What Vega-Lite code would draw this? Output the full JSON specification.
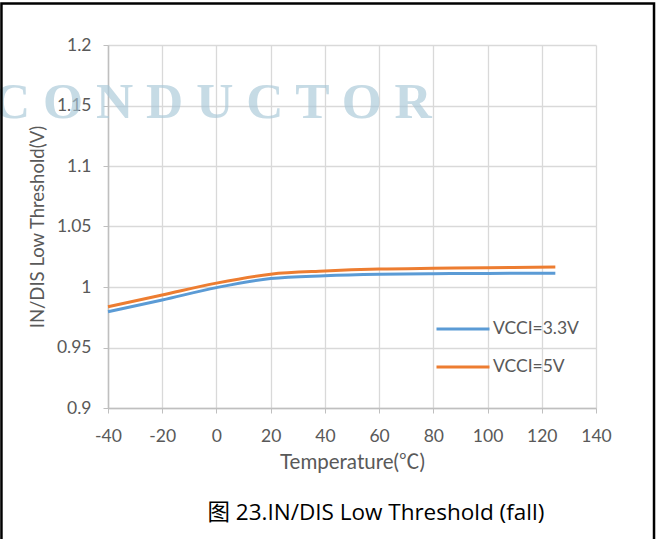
{
  "$schema": "https://vega.github.io/schema/vega-lite/v6.json",
  "width": 488,
  "height": 363,
  "autosize": {"type": "none"},
  "padding": {"left": 108, "top": 45, "right": 62, "bottom": 131},
  "background": "white",
  "config": {
    "view": {"stroke": null},
    "font": "Lato",
    "axis": {
      "labelFontSize": 17.5,
      "labelColor": "#595959",
      "labelFont": "Lato",
      "labelFlush": false,
      "labelOverlap": false,
      "titleFont": "Lato, Noto Sans CJK SC",
      "titleFontSize": 18.5,
      "titleFontWeight": "normal",
      "titleColor": "#595959",
      "domainColor": "#bfbfbf",
      "tickColor": "#bfbfbf",
      "gridColor": "#d9d9d9",
      "tickSize": 5,
      "domainWidth": 1.5,
      "gridWidth": 1.3
    }
  },
  "layer": [
    {
      "data": {
        "values": [
          {"t": -40, "v": 0.9796, "s": "VCCI=3.3V"},
          {"t": -20, "v": 0.9893, "s": "VCCI=3.3V"},
          {"t": 0, "v": 0.9995, "s": "VCCI=3.3V"},
          {"t": 20, "v": 1.007, "s": "VCCI=3.3V"},
          {"t": 40, "v": 1.0093, "s": "VCCI=3.3V"},
          {"t": 60, "v": 1.0105, "s": "VCCI=3.3V"},
          {"t": 80, "v": 1.011, "s": "VCCI=3.3V"},
          {"t": 100, "v": 1.0112, "s": "VCCI=3.3V"},
          {"t": 125, "v": 1.0114, "s": "VCCI=3.3V"},
          {"t": -40, "v": 0.9837, "s": "VCCI=5V"},
          {"t": -20, "v": 0.9934, "s": "VCCI=5V"},
          {"t": 0, "v": 1.0032, "s": "VCCI=5V"},
          {"t": 20, "v": 1.0106, "s": "VCCI=5V"},
          {"t": 40, "v": 1.0132, "s": "VCCI=5V"},
          {"t": 60, "v": 1.0148, "s": "VCCI=5V"},
          {"t": 80, "v": 1.0155, "s": "VCCI=5V"},
          {"t": 100, "v": 1.016, "s": "VCCI=5V"},
          {"t": 125, "v": 1.0165, "s": "VCCI=5V"}
        ]
      },
      "mark": {"type": "line", "strokeWidth": 3, "interpolate": "monotone"},
      "encoding": {
        "x": {
          "field": "t",
          "type": "quantitative",
          "scale": {"domain": [-40, 140], "nice": false, "zero": false},
          "axis": {
            "values": [-40, -20, 0, 20, 40, 60, 80, 100, 120, 140],
            "labelExpr": "'' + datum.value",
            "title": "Temperature(℃)",
            "titleFontSize": 20.5,
            "labelPadding": 14,
            "titlePadding": 8
          }
        },
        "y": {
          "field": "v",
          "type": "quantitative",
          "scale": {"domain": [0.9, 1.2], "nice": false, "zero": false},
          "axis": {
            "values": [0.9, 0.95, 1, 1.05, 1.1, 1.15, 1.2],
            "labelExpr": "'' + datum.value",
            "title": "IN/DIS Low Threshold(V)",
            "labelPadding": 12,
            "titlePadding": 9
          }
        },
        "color": {
          "field": "s",
          "type": "nominal",
          "scale": {"domain": ["VCCI=3.3V", "VCCI=5V"], "range": ["#5B9BD5", "#ED7D31"]},
          "legend": {
            "orient": "none",
            "legendX": 327,
            "legendY": 256,
            "title": null,
            "symbolType": "stroke",
            "symbolStrokeWidth": 3,
            "symbolSize": 2809,
            "labelFontSize": 17.5,
            "labelColor": "#595959",
            "labelFont": "Lato",
            "labelOffset": 2,
            "rowPadding": 1
          }
        }
      }
    },
    {
      "data": {"values": [{"label": "C O N D U C T O R"}]},
      "mark": {
        "type": "text",
        "font": "Liberation Serif",
        "fontWeight": "bold",
        "fontSize": 51.5,
        "fill": "#a9c8d8",
        "opacity": 0.65,
        "align": "center",
        "baseline": "alphabetic"
      },
      "encoding": {
        "text": {"field": "label"},
        "x": {"datum": -1.5},
        "y": {"datum": 1.1397}
      }
    },
    {
      "data": {"values": [{"label": "图 23.IN/DIS Low Threshold (fall)"}]},
      "mark": {
        "type": "text",
        "font": "Open Sans, Noto Sans CJK SC",
        "fontWeight": "normal",
        "fontSize": 22.5,
        "fill": "#000000",
        "align": "center",
        "baseline": "middle"
      },
      "encoding": {
        "text": {"field": "label"},
        "x": {"datum": 58.8},
        "y": {"datum": 0.8132}
      }
    },
    {
      "data": {"values": [{}]},
      "mark": {"type": "rect", "fill": null, "fillOpacity": 0, "stroke": "#000000", "strokeWidth": 2.5},
      "encoding": {
        "x": {"datum": -79.3},
        "x2": {"datum": 161.4},
        "y": {"datum": 1.2343},
        "y2": {"datum": 0.75}
      }
    }
  ]
}
